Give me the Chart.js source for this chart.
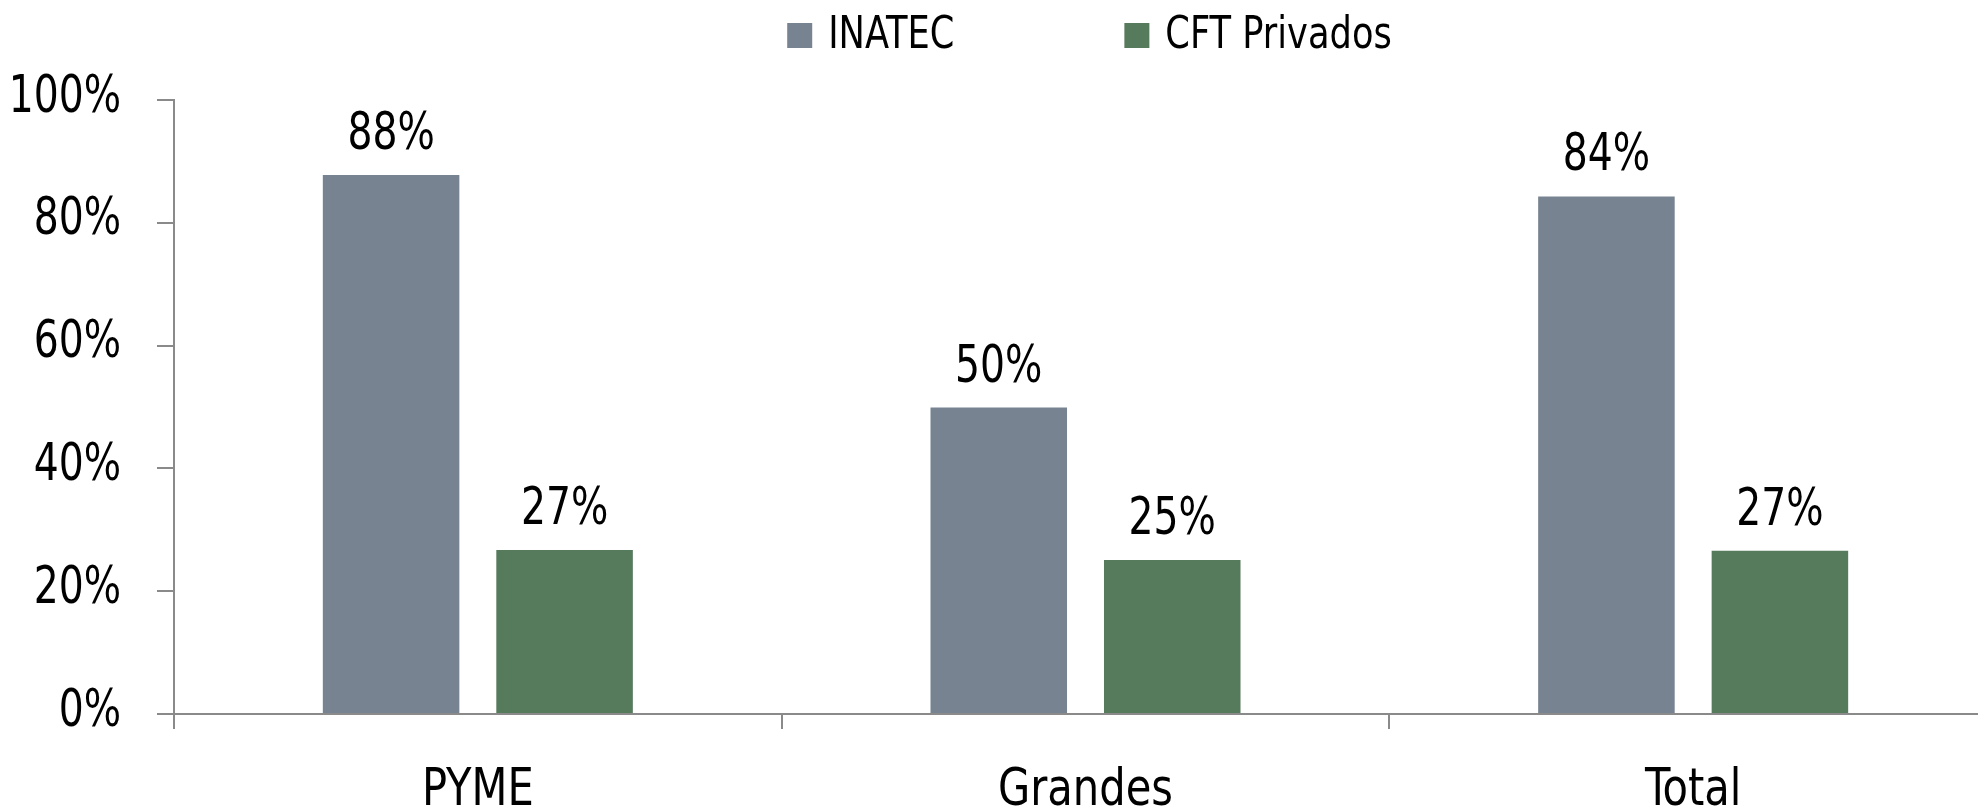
<!DOCTYPE html>
<html>
<head>
<meta charset="utf-8">
<script src="https://cdn.jsdelivr.net/npm/chart.js@4.4.1/dist/chart.umd.min.js"></script>
<style>
  html, body { margin: 0; padding: 0; background: #fff; overflow: hidden; }
  #wrap { width: 1978px; height: 806px; overflow: hidden; }
</style>
</head>
<body>
<div id="wrap"><canvas id="chart" width="2000" height="806"></canvas></div>
<script>
const categories = ["PYME", "Grandes", "Total"];
const seriesNames = ["INATEC", "CFT Privados"];
const inatec = [87.8, 49.9, 84.3];
const cftPrivados = [26.7, 25.1, 26.6];
const yTicks = [0, 20, 40, 60, 80, 100];

const colors = ["#778391", "#557a5c"];
const FONT = "'DejaVu Sans Condensed', 'DejaVu Sans', sans-serif";
const axisGray = "#8a8a8a";
// the original uses a condensed face, so text is squeezed a little sideways
const NUM_SX = 0.84;
const WORD_SX = 0.89;

function drawText(ctx, text, x, y, align, baseline, size, sx) {
  ctx.save();
  ctx.font = size + "px " + FONT;
  ctx.fillStyle = '#000';
  ctx.textAlign = align;
  ctx.textBaseline = baseline;
  ctx.translate(x, y);
  ctx.scale(sx, 1);
  ctx.fillText(text, 0, 0);
  ctx.restore();
}

// tick labels, value labels and legend
const textLayer = {
  id: 'textLayer',
  afterDraw(chart) {
    const ctx = chart.ctx;
    const xs = chart.scales.x, ys = chart.scales.y;

    ys.ticks.forEach((t, i) => {
      drawText(ctx, t.value + '%', ys.right - 15 - 38, ys.getPixelForTick(i) - 2, 'right', 'middle', 52, NUM_SX);
    });
    xs.ticks.forEach((t, i) => {
      drawText(ctx, categories[i], xs.getPixelForTick(i), xs.top + 91, 'center', 'alphabetic', 52, WORD_SX);
    });

    chart.data.datasets.forEach((ds, i) => {
      chart.getDatasetMeta(i).data.forEach((bar, j) => {
        drawText(ctx, Math.round(ds.data[j]) + '%', bar.x, bar.y - 26, 'center', 'alphabetic', 52, NUM_SX);
      });
    });

    // legend
    const area = chart.chartArea;
    const box = 25, gap = 16, spacing = 170, base = 48;
    ctx.save();
    ctx.font = "44px " + FONT;
    const widths = chart.data.datasets.map(d => ctx.measureText(d.label).width * WORD_SX);
    ctx.restore();
    let total = 0;
    widths.forEach((w, i) => { total += box + gap + w + (i ? spacing : 0); });
    let x = (area.left + area.right) / 2 - total / 2 + 4;
    chart.data.datasets.forEach((d, i) => {
      ctx.fillStyle = d.backgroundColor;
      ctx.fillRect(x, base - box, box, box);
      x += box + gap;
      drawText(ctx, d.label, x, base, 'left', 'alphabetic', 44, WORD_SX);
      x += widths[i] + spacing;
    });
  }
};

new Chart(document.getElementById('chart'), {
  type: 'bar',
  data: {
    labels: categories,
    datasets: [
      { label: seriesNames[0], data: inatec, backgroundColor: colors[0] },
      { label: seriesNames[1], data: cftPrivados, backgroundColor: colors[1] }
    ]
  },
  options: {
    responsive: false,
    animation: false,
    categoryPercentage: 0.571,
    barPercentage: 0.787,
    layout: { padding: { top: 100, right: 3, left: 0, bottom: 0 } },
    plugins: {
      legend: { display: false },
      tooltip: { enabled: false }
    },
    scales: {
      x: {
        afterFit: s => { s.height = 92; },
        border: { display: true, color: axisGray, width: 2 },
        grid: { offset: true, drawOnChartArea: false, tickLength: 15, color: axisGray, lineWidth: 2 },
        ticks: { display: false }
      },
      y: {
        min: 0,
        max: 100,
        afterBuildTicks: s => { s.ticks = yTicks.map(v => ({ value: v })); },
        afterFit: s => { s.width = 174; },
        border: { display: true, color: axisGray, width: 2 },
        grid: { drawOnChartArea: false, tickLength: 17, color: axisGray, lineWidth: 2 },
        ticks: { display: false }
      }
    }
  },
  plugins: [textLayer]
});
</script>
</body>
</html>
